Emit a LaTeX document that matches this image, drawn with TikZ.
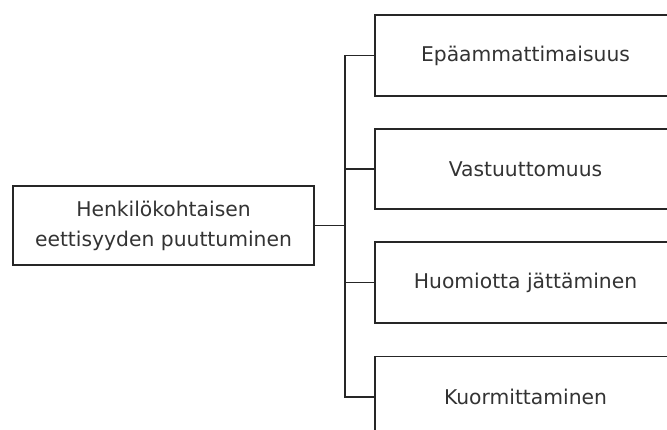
\documentclass[tikz,border=0pt]{standalone}
\usepackage{fontspec}
\setmainfont{DejaVu Sans}
\begin{document}
\begin{tikzpicture}[x=1pt,y=-1pt,
  box/.style={draw=black!85, line width=1.3pt, fill=white, text=black!80,
    minimum width=301pt, minimum height=80pt, align=center, inner sep=0pt,
    font=\fontsize{20.3}{30}\selectfont},
  conn/.style={draw=black!85, line width=1.3pt}]
\useasboundingbox (0,0) rectangle (667,430);
\clip (0,0) rectangle (667,430);
\node[box, minimum height=79pt] (L) at (163.5,225.5) {Henkilökohtaisen\\eettisyyden puuttuminen};
\node[box, minimum height=81pt] (b1) at (525.5,55.5) {Epäammattimaisuus};
\node[box] (b2) at (525.5,169) {Vastuuttomuus};
\node[box, minimum height=81pt] (b3) at (525.5,282.5) {Huomiotta jättäminen};
\node[box, minimum height=81pt] (b4) at (525.5,397) {Kuormittaminen};
\coordinate (t) at (345,0);
\draw[conn] (L.east) -- (L.east -| t);
\draw[conn] (b1.west) -- (b1.west -| t) |- (b4.west);
\draw[conn] (b2.west) -- (b2.west -| t);
\draw[conn] (b3.west) -- (b3.west -| t);
\end{tikzpicture}
\end{document}
